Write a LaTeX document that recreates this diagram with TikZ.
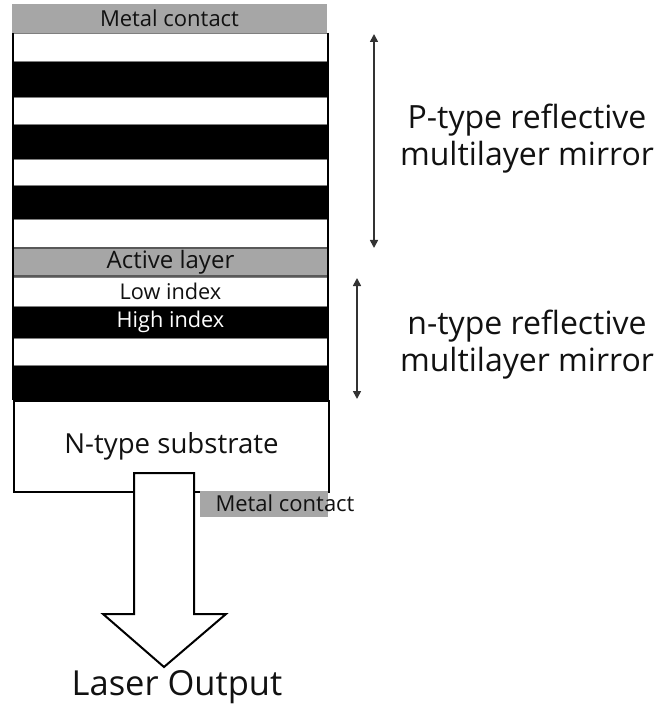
\documentclass[tikz,border=0pt]{standalone}
\usepackage{fontspec}
\setmainfont[Ligatures=NoCommon]{Open Sans}
\usetikzlibrary{arrows.meta}
\definecolor{contactgray}{HTML}{A6A6A6}
\definecolor{edgegray}{HTML}{7F7F7F}
\definecolor{inkgray}{HTML}{111111}
\tikzset{
  layer/.style={rectangle, anchor=north west, inner sep=0pt, outer sep=0pt,
    minimum width=315pt, draw=edgegray, line width=0.8pt},
  lowlayer/.style={layer, fill=white, text=inkgray},
  highlayer/.style={layer, fill=black, text=white},
  contact/.style={rectangle, anchor=north west, inner sep=0pt, outer sep=0pt, fill=contactgray},
  span/.style={{Triangle[length=8pt,width=8pt]}-{Triangle[length=8pt,width=8pt]}, line width=1.6pt, draw=black!80},
  caption/.style={font=\fontsize{32}{37}\selectfont, align=center, text=inkgray},
}
\begin{document}
\begin{tikzpicture}[x=1pt, y=-1pt]
\useasboundingbox (0,0) rectangle (657,708);

% top metal contact
\node[contact, minimum width=315pt, minimum height=29pt, font=\fontsize{22}{25}\selectfont, text=inkgray] (topc) at (12,4) {Metal contact};

% p-type mirror stack
\node[lowlayer,  minimum height=28pt] (p1) at (13,33) {};
\node[highlayer, minimum height=36pt] (p2) at (13,61) {};
\node[lowlayer,  minimum height=27pt] (p3) at (13,97) {};
\node[highlayer, minimum height=35pt] (p4) at (13,124) {};
\node[lowlayer,  minimum height=26pt] (p5) at (13,159) {};
\node[highlayer, minimum height=34pt] (p6) at (13,185) {};
\node[lowlayer,  minimum height=28pt] (p7) at (13,219) {};

% active layer
\node[layer, fill=contactgray, draw=black!65, line width=1.6pt, minimum height=28pt,
  font=\fontsize{24}{27}\selectfont, text=inkgray] (act) at (13,248) {Active layer};

% n-type mirror stack
\node[lowlayer,  minimum height=29pt, font=\fontsize{21.7}{24}\selectfont] (n1) at (13,277) {Low index};
\node[highlayer, minimum height=32pt, font=\fontsize{21.7}{24}\selectfont] (n2) at (13,306) {High index};
\node[lowlayer,  minimum height=27pt] (n3) at (13,338) {};
\node[highlayer, minimum height=35pt] (n4) at (13,365) {};

% substrate
\node[rectangle, anchor=north west, inner sep=0pt, draw=black, line width=2pt, fill=white,
  minimum width=315pt, minimum height=91pt, font=\fontsize{27.6}{32}\selectfont, text=inkgray] (sub) at (13,400) {N-type substrate};

% side walls of the mirror stack
\draw[line width=2pt] (p1.north west) -- (n4.south west);
\draw[line width=2pt] (p1.north east) -- (n4.south east);

% bottom metal contact
\node[contact, minimum width=128pt, minimum height=26pt] (botc) at (200,491) {};
\node[font=\fontsize{22}{25}\selectfont, inner sep=0pt, text=inkgray] (botct) at (285,503) {Metal contact};

% output arrow
\coordinate (o1) at (134,473);
\coordinate (o2) at (194,473);
\coordinate (o3) at (194,614);
\coordinate (o4) at (226,614);
\coordinate (o5) at (164,667);
\coordinate (o6) at (103,614);
\coordinate (o7) at (134,614);
\draw[line width=2pt, fill=white, line join=miter] (o1) -- (o2) -- (o3) -- (o4) -- (o5) -- (o6) -- (o7) -- cycle;
\node[font=\fontsize{34.5}{40}\selectfont, inner sep=0pt, text=inkgray] (out) at (177,687) {Laser Output};

% mirror extents
\coordinate (pa) at (374,34);
\coordinate (pb) at (374,248);
\coordinate (na) at (357,278);
\coordinate (nb) at (357,399);
\draw[span] (pa) -- (pb);
\draw[span] (na) -- (nb);
\node[caption] (plab) at (527,139) {P-type reflective\\multilayer mirror};
\node[caption] (nlab) at (527,345) {n-type reflective\\multilayer mirror};
\end{tikzpicture}
\end{document}
